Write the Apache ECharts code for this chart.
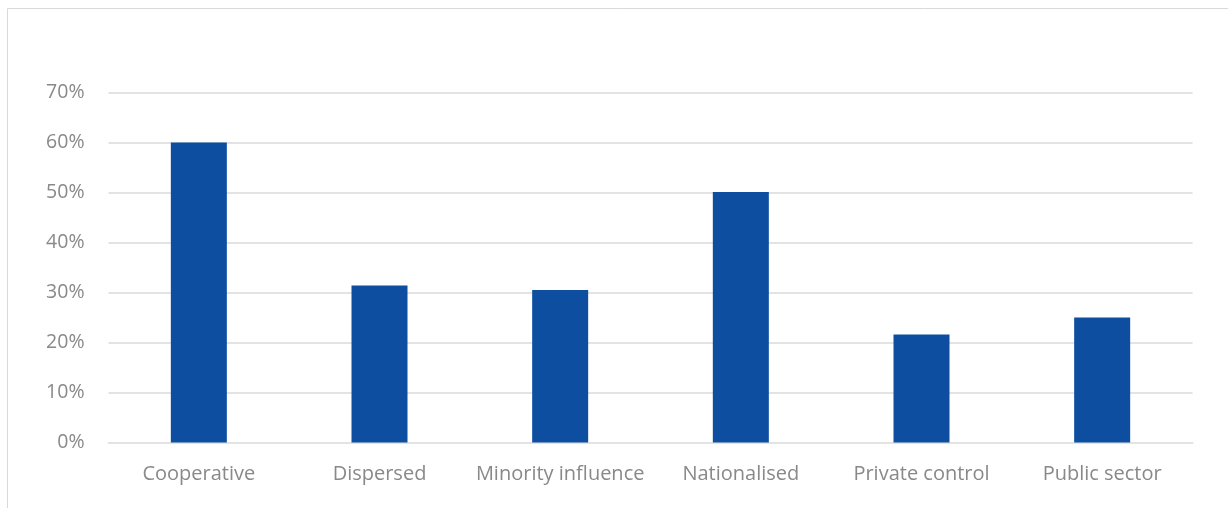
<!DOCTYPE html>
<html>
<head>
<meta charset="utf-8">
<script src="https://cdn.jsdelivr.net/npm/echarts@6/dist/echarts.min.js"></script>
<style>
html,body{margin:0;padding:0;background:#fff;}
#chart{width:1228px;height:508px;}
</style>
</head>
<body>
<div id="chart"></div>
<script>
const categories = ["Cooperative", "Dispersed", "Minority influence", "Nationalised", "Private control", "Public sector"];
const values = [0.60, 0.314, 0.305, 0.501, 0.216, 0.25];
const yTicks = [0, 0.1, 0.2, 0.3, 0.4, 0.5, 0.6, 0.7];

const chart = echarts.init(document.getElementById('chart'));
const font = '"Open Sans", "Noto Sans", sans-serif';
chart.setOption({
  animation: false,
  backgroundColor: '#fff',
  graphic: [{
    type: 'rect',
    shape: { x: 7.5, y: 8.5, width: 1400, height: 700 },
    style: { fill: 'none', stroke: '#d9d9d9', lineWidth: 1 },
    silent: true
  }],
  grid: { left: 108.5, right: 35.5, top: 92.5, bottom: 65.5, containLabel: false },
  xAxis: {
    type: 'category',
    data: categories,
    axisLine: { show: true, lineStyle: { color: '#e3e3e3', width: 2 } },
    axisTick: { show: false },
    axisLabel: { color: '#898989', fontSize: 20, fontFamily: font, margin: 22, interval: 0, hideOverlap: false }
  },
  yAxis: {
    type: 'value',
    min: yTicks[0],
    max: yTicks[yTicks.length - 1],
    interval: 0.1,
    axisLine: { show: false },
    axisTick: { show: false },
    splitLine: { lineStyle: { color: '#e3e3e3', width: 2 } },
    axisLabel: {
      color: '#898989', fontSize: 19.5, fontFamily: font, margin: 24,
      formatter: v => Math.round(v * 100) + '%'
    }
  },
  series: [{
    type: 'bar',
    data: values,
    barWidth: '31%',
    itemStyle: { color: '#0D4EA0' }
  }]
});
</script>
</body>
</html>
